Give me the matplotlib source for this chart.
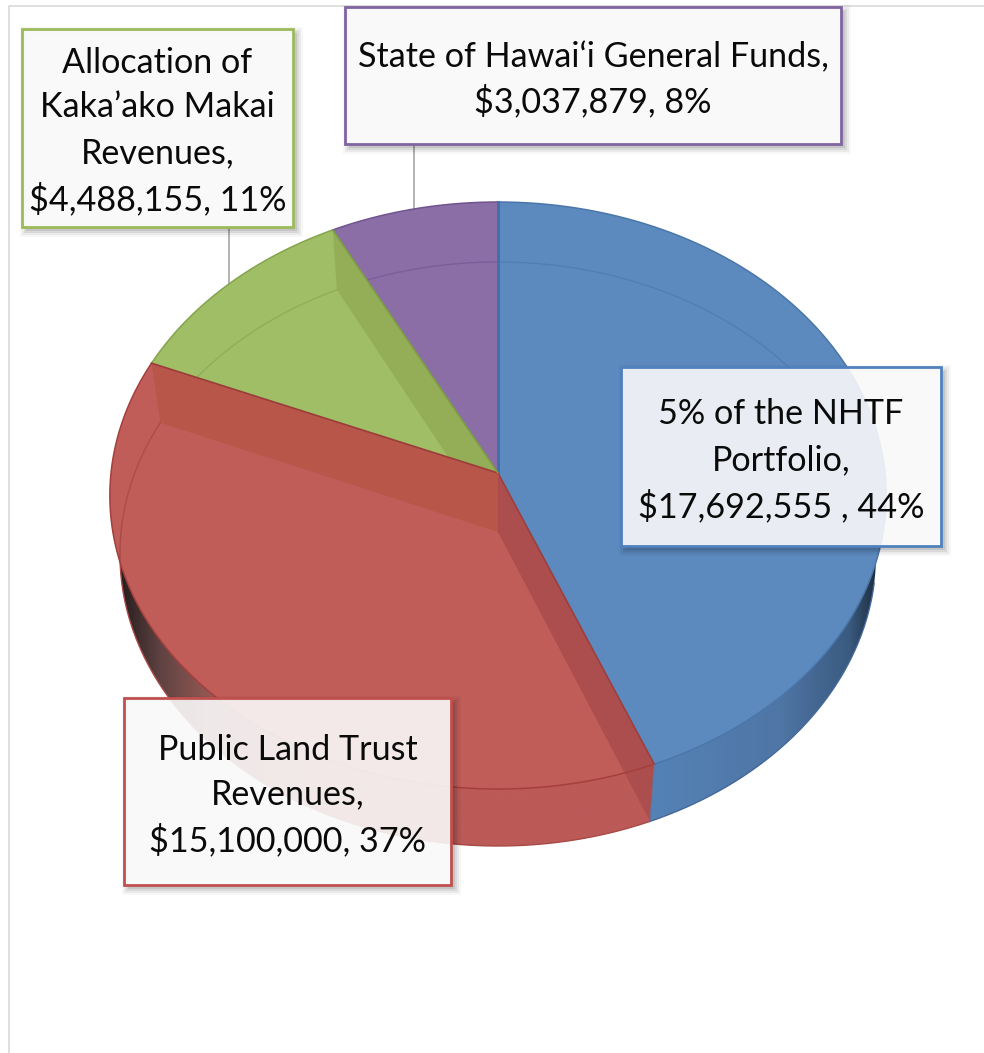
import numpy as np
import matplotlib
matplotlib.use("Agg")
import matplotlib.pyplot as plt
from matplotlib.colors import LinearSegmentedColormap
from matplotlib.patches import PathPatch, Polygon, Rectangle
from matplotlib.path import Path

# Chart data, clockwise from 12 o'clock
names = ["5% of the NHTF\nPortfolio,", "Public Land Trust\nRevenues,",
         "Allocation of\nKaka\u2019ako Makai\nRevenues,", "State of Hawai\u2018i General Funds,"]
values = [17692555, 15100000, 4488155, 3037879]
value_text = ["$17,692,555 , 44%", "$15,100,000, 37%", "$4,488,155, 11%", "$3,037,879, 8%"]

top_colors = ["#5c8abf", "#c15d59", "#a0be66", "#8a6ea5"]
edge_colors = ["#4a76aa", "#a53f3c", "#84a44c", "#715490"]
box_colors = ["#4f81bd", "#c0504d", "#9bbb59", "#8064a2"]

fracs = np.array(values) / sum(values)
angles = np.concatenate([[0], np.cumsum(fracs)]) * 2 * np.pi


def project(theta, apex_y, a, c, k):
    # perspective view of the pie disc; theta runs clockwise from the top
    u, v = np.sin(theta), np.cos(theta)
    w = 1 + c * v
    return np.column_stack([498 + k * u / w, (apex_y + a * v) / w])


def top_disc(theta):
    return project(theta, 473, -255.5, 0.0767, 387)


def bottom_disc(theta):
    return project(theta, 532, -250.3, 0.0753, 377)


def arc(a0, a1, func):
    return func(np.linspace(a0, a1, 200))


def gradient_side(ax, a0, a1, xs, colors):
    # side wall of the pie with a horizontal shade, clipped to its outline
    outline = np.vstack([arc(a0, a1, top_disc), arc(a1, a0, bottom_disc)])
    stops = [(x - xs[0]) / (xs[-1] - xs[0]) for x in xs]
    cmap = LinearSegmentedColormap.from_list("side", list(zip(stops, colors)))
    grad = np.linspace(0, 1, 512).reshape(1, -1)
    im = ax.imshow(grad, cmap=cmap, extent=(xs[0], xs[-1], 860, 480), aspect="auto",
                   zorder=1, interpolation="bilinear")
    patch = Polygon(outline, closed=True, fc="none", ec="none", transform=ax.transData)
    ax.add_patch(patch)
    im.set_clip_path(patch)


def wedge_points(i):
    return np.vstack([[[498, 473]], arc(angles[i], angles[i + 1], top_disc)])


def shadow_ring(x0, y0, x1, y1, grow):
    # soft shadow band that leaves the box itself uncovered
    ox0, oy0, ox1, oy1 = x0 + 4 - grow, y0 + 4 - grow, x1 + 4 + grow, y1 + 4 + grow
    outer = [(ox0, oy0), (ox1, oy0), (ox1, oy1), (ox0, oy1), (ox0, oy0)]
    inner = [(x0, y0), (x0, y1), (x1, y1), (x1, y0), (x0, y0)]
    codes = [Path.MOVETO, Path.LINETO, Path.LINETO, Path.LINETO, Path.CLOSEPOLY]
    return Path(outer + inner, codes + codes)


fig = plt.figure(figsize=(9.84, 10.53), dpi=100)
ax = fig.add_axes([0, 0, 1, 1])

plt.rcParams["font.family"] = ["Lato", "DejaVu Sans"]

# chart frame
ax.plot([8.5, 8.5, 984], [1053, 5.5, 5.5], color="#d9d9d9", lw=1.2, zorder=0)

# leader lines
ax.plot([413.5, 413.5], [144, 210], color="#a6a6a6", lw=1.2, zorder=0.5)
ax.plot([229, 229], [227, 285], color="#a6a6a6", lw=1.2, zorder=0.5)

# side walls
gradient_side(ax, np.radians(70), angles[1], [640, 780, 850, 884],
              ["#5583b8", "#4f76a5", "#3a5a80", "#16202c"])
gradient_side(ax, angles[1], np.radians(272), [112, 160, 215, 320, 665],
              ["#1c1616", "#5f4342", "#9b5a55", "#bb5a57", "#bb5a57"])

# top faces
for i in range(4):
    ax.add_patch(Polygon(wedge_points(i), closed=True, fc=top_colors[i], ec="none", zorder=2))

# inner walls seen through the top, the first two held inside their slice
walls = [
    (angles[3], "#93ae57", wedge_points(2)),
    (angles[2], "#b75649", wedge_points(1)),
    (angles[1], "#ad4e4e", None),
]
for ang, col, clip_pts in walls:
    a_top = top_disc(np.array([ang]))[0]
    a_bot = bottom_disc(np.array([ang]))[0]
    wall = Polygon([a_top, a_bot, [498, 532], [498, 473]], closed=True, fc=col, ec="none", zorder=3)
    ax.add_patch(wall)
    if clip_pts is not None:
        clip = Polygon(clip_pts, closed=True, fc="none", ec="none", transform=ax.transData)
        ax.add_patch(clip)
        wall.set_clip_path(clip)

# far rim of the base showing through the top
for i in range(4):
    a0, a1 = angles[i], angles[i + 1]
    if i == 0:
        a0, a1 = 0, np.radians(80)
    if i == 1:
        a0, a1 = np.radians(272), a1
    pts = arc(a0, a1, bottom_disc)
    line, = ax.plot(pts[:, 0], pts[:, 1], color=edge_colors[i], lw=1.0, alpha=0.6, zorder=3.5)
    clip = Polygon(wedge_points(i), closed=True, fc="none", ec="none", transform=ax.transData)
    ax.add_patch(clip)
    line.set_clip_path(clip)

# outer outline of the bottom of the pie
pts = arc(angles[1], np.radians(272), bottom_disc)
ax.plot(pts[:, 0], pts[:, 1], color="#a84a47", lw=1.0, zorder=3.5)
pts = arc(np.radians(100), angles[1], bottom_disc)
ax.plot(pts[:, 0], pts[:, 1], color="#44689a", lw=1.0, zorder=3.5)

# rims of the top faces and slice edges
for i in range(4):
    pts = arc(angles[i], angles[i + 1], top_disc)
    ax.plot(pts[:, 0], pts[:, 1], color=edge_colors[i], lw=1.1, zorder=4)
ax.plot([498, 498], [202, 473], color="#3f6ea8", lw=2.0, zorder=4)
for ang, col in zip(angles[1:4], ["#9c3f40", "#9c3c3a", "#7d9c45"]):
    p = top_disc(np.array([ang]))[0]
    ax.plot([498, p[0]], [473, p[1]], color=col, lw=1.2, zorder=4)
p0, p1 = top_disc(np.array([angles[1]]))[0], bottom_disc(np.array([angles[1]]))[0]
ax.plot([p0[0], p1[0]], [p0[1], p1[1]], color="#6d6f8f", lw=0.9, zorder=4)
ax.plot([498, 498], [473, 532], color="#aa4d4a", lw=0.8, zorder=4)

# data labels: (left, top, right, bottom) of each box
boxes = [(621, 367, 941, 546), (124, 698, 451, 885), (22, 29, 293, 227), (345, 7, 841, 144)]
text_y = [[414, 460, 506], [750, 794, 840], [63, 107, 153, 199], [57, 101]]

for i, (x0, y0, x1, y1) in enumerate(boxes):
    for grow, alpha in zip([6, 4, 2, 0], [0.03, 0.05, 0.07, 0.09]):
        ax.add_patch(PathPatch(shadow_ring(x0, y0, x1, y1, grow), fc="#000000", ec="none",
                               alpha=alpha, zorder=5))
    ax.add_patch(Rectangle((x0, y0), x1 - x0, y1 - y0, fc="#f9f9f9", ec="none", alpha=0.9, zorder=5.5))
    ax.add_patch(Rectangle((x0, y0), x1 - x0, y1 - y0, fc="none", ec=box_colors[i], lw=2.0, zorder=6))
    lines = names[i].split("\n") + [value_text[i]]
    for line, y in zip(lines, text_y[i]):
        ax.text((x0 + x1) / 2, y, line, ha="center", va="center", fontsize=24.6,
                color="#0a0a0a", zorder=7)

ax.set_xlim(0, 984)
ax.set_ylim(1053, 0)
ax.axis("off")

fig.savefig("out.png", dpi=100)
